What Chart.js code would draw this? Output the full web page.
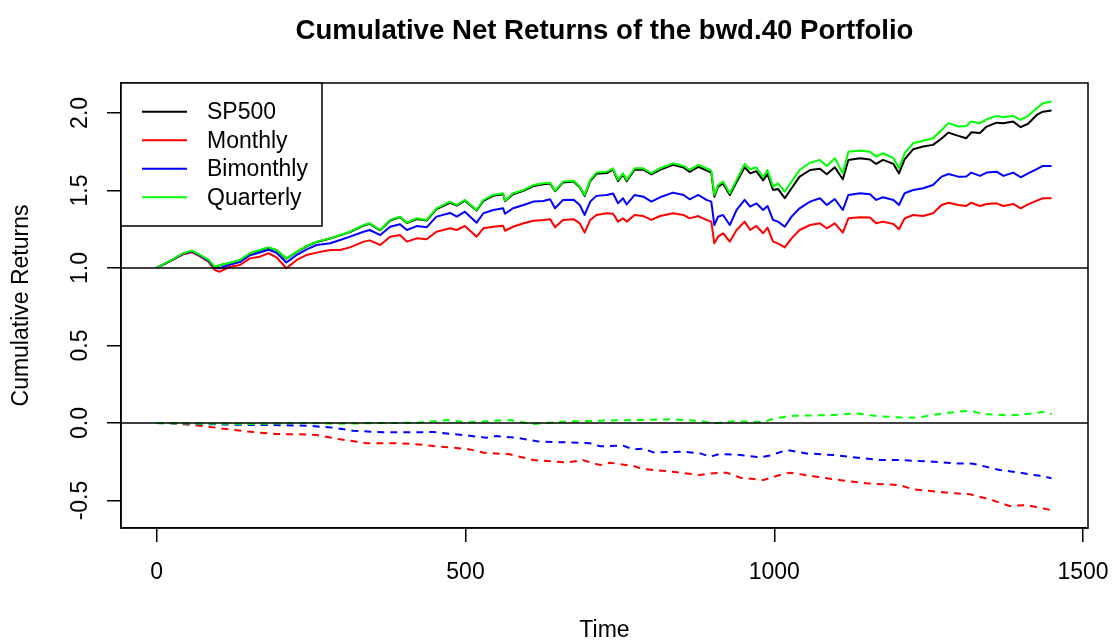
<!DOCTYPE html>
<html>
<head>
<meta charset="utf-8">
<script src="https://cdn.jsdelivr.net/npm/chart.js@4.4.0/dist/chart.umd.min.js"></script>
<style>
html,body{margin:0;padding:0;background:#fff;overflow:hidden}
#wrap{width:1113px;height:642px;position:relative}
canvas{display:block}
</style>
</head>
<body>
<div id="wrap"><canvas id="c" width="1113" height="642"></canvas></div>
<script>
// ---------- text ----------
const titleText = 'Cumulative Net Returns of the bwd.40 Portfolio';
const xAxisTitle = 'Time';
const yAxisTitle = 'Cumulative Returns';
const seriesNames = ['SP500', 'Monthly', 'Bimonthly', 'Quarterly'];

// ---------- ticks ----------
const xTicks = [0, 500, 1000, 1500];
const xTickLabels = ['0', '500', '1000', '1500'];
const yTicks = [-0.5, 0, 0.5, 1, 1.5, 2];
const yTickLabels = ['-0.5', '0.0', '0.5', '1.0', '1.5', '2.0'];
const refLines = [1, 0];

// ---------- cumulative returns (solid lines) ----------
const timeSolid = [0,22,43,57,70,84,94,102,119,135,151,167,181,194,210,227,243,259,281,297,313,335,345,362,378,394,405,421,437,453,475,486,499,518,529,545,561,564,577,594,610,626,637,645,658,675,685,693,702,712,729,739,747,755,761,774,788,801,815,836,853,863,877,890,898,903,909,917,928,939,952,961,971,982,989,998,1006,1017,1028,1041,1058,1074,1085,1098,1111,1120,1139,1155,1165,1176,1193,1202,1211,1225,1241,1257,1271,1282,1298,1311,1319,1333,1344,1360,1371,1387,1399,1411,1425,1435,1449];
const sp500 = [1.000,1.045,1.093,1.110,1.083,1.050,1.006,1.017,1.033,1.050,1.092,1.113,1.130,1.115,1.060,1.103,1.140,1.168,1.190,1.210,1.232,1.274,1.285,1.243,1.306,1.328,1.290,1.316,1.306,1.380,1.420,1.402,1.434,1.370,1.433,1.465,1.475,1.430,1.476,1.497,1.528,1.540,1.545,1.495,1.552,1.558,1.520,1.465,1.560,1.607,1.612,1.635,1.560,1.603,1.560,1.635,1.634,1.603,1.633,1.665,1.648,1.620,1.652,1.630,1.615,1.460,1.525,1.545,1.470,1.555,1.650,1.610,1.625,1.565,1.605,1.503,1.510,1.450,1.514,1.589,1.632,1.640,1.605,1.650,1.572,1.697,1.708,1.700,1.671,1.697,1.671,1.610,1.700,1.766,1.783,1.794,1.835,1.873,1.852,1.837,1.875,1.870,1.912,1.937,1.934,1.944,1.908,1.930,1.987,2.008,2.015];
const monthly = [1.000,1.044,1.088,1.102,1.075,1.040,0.987,0.976,1.008,1.019,1.062,1.073,1.095,1.069,0.998,1.052,1.084,1.099,1.116,1.116,1.133,1.170,1.178,1.148,1.202,1.213,1.170,1.191,1.185,1.234,1.256,1.245,1.271,1.202,1.256,1.266,1.272,1.240,1.266,1.288,1.305,1.310,1.315,1.262,1.310,1.315,1.288,1.228,1.310,1.342,1.353,1.350,1.299,1.320,1.299,1.342,1.335,1.310,1.335,1.353,1.342,1.320,1.335,1.310,1.299,1.159,1.202,1.224,1.170,1.245,1.299,1.245,1.271,1.224,1.260,1.170,1.159,1.133,1.191,1.245,1.277,1.288,1.256,1.288,1.228,1.320,1.327,1.325,1.288,1.299,1.284,1.250,1.320,1.342,1.335,1.353,1.406,1.421,1.406,1.400,1.421,1.400,1.413,1.417,1.400,1.413,1.385,1.410,1.434,1.450,1.450];
const bimonthly = [1.000,1.046,1.092,1.108,1.080,1.046,1.000,0.998,1.022,1.038,1.082,1.100,1.118,1.098,1.035,1.085,1.120,1.148,1.159,1.180,1.202,1.234,1.245,1.212,1.266,1.282,1.245,1.270,1.262,1.331,1.355,1.331,1.363,1.292,1.353,1.374,1.385,1.350,1.385,1.406,1.428,1.432,1.443,1.385,1.439,1.440,1.406,1.342,1.428,1.465,1.471,1.480,1.417,1.450,1.410,1.471,1.460,1.428,1.456,1.486,1.471,1.443,1.471,1.439,1.428,1.277,1.331,1.342,1.277,1.374,1.439,1.396,1.417,1.374,1.400,1.310,1.299,1.266,1.331,1.385,1.428,1.450,1.406,1.445,1.374,1.471,1.482,1.475,1.439,1.456,1.439,1.406,1.482,1.503,1.514,1.535,1.589,1.606,1.589,1.590,1.615,1.594,1.615,1.621,1.594,1.615,1.585,1.610,1.637,1.658,1.658];
const quarterly = [1.000,1.047,1.095,1.112,1.084,1.052,1.008,1.019,1.034,1.052,1.095,1.116,1.133,1.116,1.062,1.105,1.142,1.170,1.191,1.213,1.234,1.277,1.288,1.245,1.310,1.331,1.292,1.320,1.310,1.385,1.428,1.406,1.439,1.374,1.439,1.471,1.482,1.434,1.482,1.503,1.535,1.546,1.550,1.499,1.557,1.563,1.525,1.471,1.568,1.615,1.621,1.643,1.568,1.611,1.568,1.643,1.643,1.611,1.643,1.675,1.658,1.632,1.665,1.643,1.628,1.471,1.535,1.557,1.482,1.568,1.671,1.637,1.650,1.585,1.632,1.525,1.546,1.492,1.557,1.632,1.679,1.697,1.658,1.708,1.611,1.750,1.757,1.750,1.718,1.740,1.708,1.643,1.740,1.805,1.821,1.837,1.890,1.934,1.912,1.916,1.944,1.934,1.959,1.981,1.972,1.981,1.955,1.981,2.030,2.063,2.073];

// ---------- differences vs SP500 (dashed lines) ----------
const timeDiffMonthly = [0,22,70,92,124,156,194,232,259,297,324,340,394,426,448,480,507,529,572,610,664,690,707,718,734,772,788,826,880,896,923,945,982,1009,1025,1068,1106,1149,1203,1225,1284,1317,1349,1381,1408,1443,1449];
const diffMonthly = [0,0,-0.017,-0.028,-0.045,-0.058,-0.071,-0.073,-0.077,-0.105,-0.120,-0.131,-0.131,-0.138,-0.148,-0.159,-0.170,-0.191,-0.202,-0.239,-0.254,-0.239,-0.260,-0.271,-0.256,-0.277,-0.297,-0.310,-0.335,-0.325,-0.320,-0.353,-0.368,-0.335,-0.320,-0.346,-0.368,-0.389,-0.400,-0.428,-0.450,-0.460,-0.492,-0.535,-0.529,-0.557,-0.565];
const timeDiffBimonthly = [0,70,92,151,189,243,286,318,367,421,448,502,534,550,583,620,664,702,718,755,772,788,804,852,880,896,912,945,977,993,1020,1052,1095,1128,1171,1203,1257,1290,1322,1365,1398,1419,1435,1449];
const diffBimonthly = [0,-0.006,-0.008,-0.013,-0.013,-0.017,-0.030,-0.050,-0.060,-0.060,-0.058,-0.080,-0.095,-0.084,-0.095,-0.120,-0.125,-0.131,-0.150,-0.146,-0.170,-0.165,-0.189,-0.185,-0.196,-0.217,-0.199,-0.206,-0.221,-0.210,-0.174,-0.196,-0.206,-0.221,-0.239,-0.239,-0.249,-0.260,-0.262,-0.303,-0.320,-0.335,-0.342,-0.357];
const timeDiffQuarterly = [0,70,151,243,297,367,421,470,502,572,610,664,718,772,836,880,901,933,982,998,1031,1095,1133,1166,1214,1235,1257,1284,1317,1338,1381,1419,1438,1449];
const diffQuarterly = [0,-0.004,-0.006,0.000,-0.004,0.000,0.002,0.019,0.005,0.019,-0.006,0.010,0.015,0.019,0.024,0.013,-0.002,0.011,0.006,0.028,0.047,0.052,0.062,0.045,0.034,0.037,0.052,0.067,0.080,0.058,0.049,0.062,0.073,0.058];

// ---------- axis ranges ----------
const xMin = -57.8, xMax = 1508;
const yMin = -0.677, yMax = 2.193;

const FONT = "'Liberation Sans', Arial, Helvetica, sans-serif";
const colors = ['#000000', '#FF0000', '#0000FF', '#00FF00'];

const pts = (t, v) => t.map((x, i) => ({x: x, y: v[i]}));

const solidSets = [sp500, monthly, bimonthly, quarterly].map((v, i) => ({
  label: seriesNames[i],
  data: pts(timeSolid, v),
  borderColor: colors[i],
  borderWidth: 2,
  pointRadius: 0,
  tension: 0,
  borderJoinStyle: 'round',
  order: 20 - i,
  inLegend: true
}));

const dashSets = [[timeDiffMonthly, diffMonthly], [timeDiffBimonthly, diffBimonthly], [timeDiffQuarterly, diffQuarterly]].map((p, i) => ({
  label: seriesNames[i + 1] + ' - SP500',
  data: pts(p[0], p[1]),
  borderColor: colors[i + 1],
  borderWidth: 2,
  borderDash: [7, 6],
  pointRadius: 0,
  tension: 0,
  order: 10 - i,
  inLegend: false
}));

const refSets = refLines.map((v, i) => ({
  label: 'ref' + v,
  data: [{x: xMin, y: v}, {x: xMax, y: v}],
  borderColor: '#000000',
  borderWidth: 1.5,
  pointRadius: 0,
  order: 1,
  inLegend: false
}));

const framePlugin = {
  id: 'frame',
  afterDraw(chart) {
    const {ctx, chartArea: a} = chart;
    ctx.save();
    // plot box
    ctx.strokeStyle = '#000';
    ctx.lineWidth = 1.5;
    ctx.strokeRect(a.left, a.top, a.right - a.left, a.bottom - a.top);
    // main title
    ctx.fillStyle = '#000';
    ctx.font = 'bold 27.6px ' + FONT;
    ctx.textAlign = 'center';
    ctx.textBaseline = 'alphabetic';
    ctx.fillText(titleText, (a.left + a.right) / 2, 39);
    // legend
    const lx = a.left, ly = a.top, lw = 201, lh = 143;
    ctx.fillStyle = '#fff';
    ctx.fillRect(lx, ly, lw, lh);
    ctx.strokeStyle = '#000';
    ctx.lineWidth = 1.5;
    ctx.strokeRect(lx, ly, lw, lh);
    ctx.font = '23px ' + FONT;
    ctx.textAlign = 'left';
    ctx.textBaseline = 'middle';
    const items = chart.data.datasets.filter(d => d.inLegend);
    items.forEach((d, i) => {
      const y = ly + 28.7 + i * 28.5;
      ctx.strokeStyle = d.borderColor;
      ctx.lineWidth = 2;
      ctx.beginPath();
      ctx.moveTo(lx + 21, y);
      ctx.lineTo(lx + 66, y);
      ctx.stroke();
      ctx.fillStyle = '#000';
      ctx.fillText(d.label, lx + 86, y + 1);
    });
    ctx.restore();
  }
};

new Chart(document.getElementById('c'), {
  type: 'line',
  data: {datasets: [...solidSets, ...dashSets, ...refSets]},
  options: {
    responsive: false,
    animation: false,
    devicePixelRatio: 1,
    parsing: false,
    normalized: true,
    layout: {padding: {top: 83, right: 25, left: 0, bottom: 0}},
    plugins: {legend: {display: false}, title: {display: false}, tooltip: {enabled: false}},
    scales: {
      x: {
        type: 'linear',
        min: xMin, max: xMax,
        afterBuildTicks: s => { s.ticks = xTicks.map(v => ({value: v})); },
        afterFit: s => { s.height = 114; s.paddingLeft = 0; s.paddingRight = 0; },
        ticks: {
          autoSkip: false, maxRotation: 0, minRotation: 0,
          padding: 17, color: '#000',
          font: {family: FONT, size: 23},
          callback: (v, i) => xTickLabels[i]
        },
        grid: {drawOnChartArea: false, drawTicks: true, tickLength: 14, color: '#000', lineWidth: 1.5},
        border: {display: true, color: '#000', width: 1.5},
        title: {display: true, text: xAxisTitle, color: '#000', font: {family: FONT, size: 23}, padding: {top: 0, bottom: -2}}
      },
      y: {
        type: 'linear',
        min: yMin, max: yMax,
        afterBuildTicks: s => { s.ticks = yTicks.map(v => ({value: v})); },
        afterFit: s => { s.width = 121; s.paddingTop = 0; s.paddingBottom = 0; },
        ticks: {
          autoSkip: false, minRotation: 90, maxRotation: 90,
          crossAlign: 'center',
          padding: 7, color: '#000',
          font: {family: FONT, size: 23},
          callback: (v, i) => yTickLabels[i]
        },
        grid: {drawOnChartArea: false, drawTicks: true, tickLength: 14, color: '#000', lineWidth: 1.5},
        border: {display: true, color: '#000', width: 1.5},
        title: {display: true, text: yAxisTitle, color: '#000', font: {family: FONT, size: 23}, padding: {top: 8, bottom: 0}}
      }
    }
  },
  plugins: [framePlugin]
});
</script>
</body>
</html>
